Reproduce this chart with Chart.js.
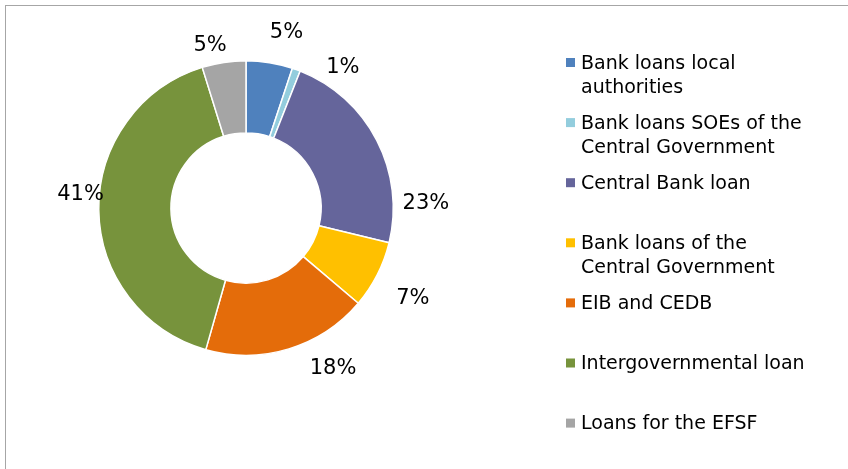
<!DOCTYPE html>
<html>
<head>
<meta charset="utf-8">
<script src="https://cdn.jsdelivr.net/npm/chart.js@4"></script>
<style>
  html, body { margin: 0; padding: 0; background: #fff; }
  #wrap { position: relative; width: 848px; height: 469px; overflow: hidden; }
  #frame { position: absolute; left: 5px; top: 5px; right: -10px; bottom: -10px;
           border-top: 1px solid #a6a6a6; border-left: 1px solid #a6a6a6; }
  canvas { position: absolute; left: 0; top: 0; }
</style>
</head>
<body>
<div id="wrap">
  <div id="frame"></div>
  <canvas id="debtChart" width="848" height="469"></canvas>
</div>
<script>
// categories (legend lines) and shares in percent
const categories = [
  ['Bank loans local', 'authorities'],
  ['Bank loans SOEs of the', 'Central Government'],
  ['Central Bank loan'],
  ['Bank loans of the', 'Central Government'],
  ['EIB and CEDB'],
  ['Intergovernmental loan'],
  ['Loans for the EFSF']
];
const shares = [5.1, 0.9, 22.8, 7.4, 18.2, 40.8, 4.8];
const sliceColors = ['#4f81bd', '#93cddd', '#65659b', '#ffc000', '#e46c0a', '#77933c', '#a5a5a5'];

// where each percentage sits: angle clockwise from 12 o'clock (deg), distance from centre (px)
const labelSpots = [[13, 180], [34.5, 171], [88.7, 180], [118.6, 190], [151.6, 183], [274.5, 166], [347.5, 166]];

const percentLabels = {
  id: 'percentLabels',
  afterDatasetsDraw(chart) {
    const { ctx } = chart;
    const meta = chart.getDatasetMeta(0);
    const values = chart.data.datasets[0].data;
    const total = values.reduce((a, b) => a + b, 0);
    ctx.save();
    ctx.font = '21px "DejaVu Sans"';
    ctx.fillStyle = '#000';
    ctx.textAlign = 'center';
    ctx.textBaseline = 'middle';
    meta.data.forEach((arc, i) => {
      const [deg, dist] = labelSpots[i];
      const a = deg * Math.PI / 180;
      const x = arc.x + Math.sin(a) * dist;
      const y = arc.y - Math.cos(a) * dist;
      ctx.fillText(Math.round(values[i] / total * 100) + '%', x, y);
    });
    ctx.restore();
  }
};

const sideLegend = {
  id: 'sideLegend',
  afterDraw(chart) {
    const { ctx } = chart;
    const colors = chart.data.datasets[0].backgroundColor;
    ctx.save();
    ctx.font = '19px "DejaVu Sans"';
    ctx.fillStyle = '#000';
    ctx.textBaseline = 'alphabetic';
    chart.data.labels.forEach((lines, i) => {
      const cy = 62.5 + i * 60.1;
      ctx.fillStyle = colors[i];
      ctx.fillRect(566, cy - 4.5, 9, 9);
      ctx.fillStyle = '#000';
      lines.forEach((line, j) => ctx.fillText(line, 581, cy + 6 + j * 24));
    });
    ctx.restore();
  }
};

new Chart(document.getElementById('debtChart'), {
  type: 'doughnut',
  data: {
    labels: categories,
    datasets: [{
      data: shares,
      backgroundColor: sliceColors,
      borderColor: '#fff',
      borderWidth: 1.5
    }]
  },
  options: {
    responsive: false,
    animation: false,
    cutout: '51%',
    layout: { padding: { left: 98, right: 454, top: 60, bottom: 113 } },
    plugins: { legend: { display: false }, tooltip: { enabled: false } }
  },
  plugins: [percentLabels, sideLegend]
});
</script>
</body>
</html>
